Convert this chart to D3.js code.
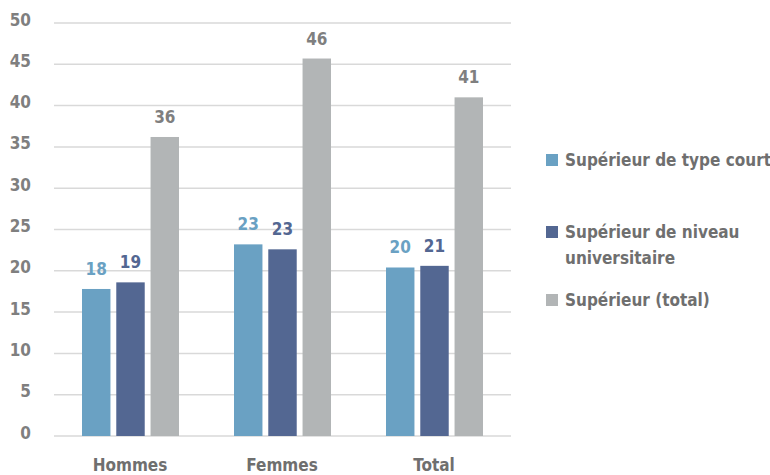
<!DOCTYPE html>
<html>
<head>
<meta charset="utf-8">
<script src="https://cdn.jsdelivr.net/npm/d3@7"></script>
<style>
  body { margin: 0; background: #fff; }
  text { font-family: "Liberation Sans Narrow", "DejaVu Sans Condensed", sans-serif; font-weight: bold; }
</style>
</head>
<body>
<script>

// data
var categories = ["Hommes", "Femmes", "Total"];
var seriesNames = ["Supérieur de type court", "Supérieur de niveau universitaire", "Supérieur (total)"];
var courtValues = [17.8, 23.2, 20.4];
var univValues = [18.6, 22.6, 20.6];
var totalValues = [36.2, 45.7, 41.0];
var yTicks = [0, 5, 10, 15, 20, 25, 30, 35, 40, 45, 50];

var colors = ["#6aa1c3", "#536792", "#b2b5b6"];
var labelColors = ["#6aa1c3", "#536792", "#7f7f7f"];

var svgWidth = 770, svgHeight = 475;
var margin = {top: 23, left: 54, right: 260, bottom: 39};
var chartWidth = svgWidth - margin.left - margin.right;
var chartHeight = svgHeight - margin.top - margin.bottom;

var svg = d3.select("body").append("svg")
    .attr("width", svgWidth)
    .attr("height", svgHeight);

var chartGroup = svg.append("g")
    .attr("transform", `translate(${margin.left}, ${margin.top})`);

var yScale = d3.scaleLinear().domain([0, 50]).range([chartHeight, 0]);
var xScale = d3.scaleBand().domain(categories).range([0, chartWidth]).paddingInner(0).paddingOuter(0);
var xSub = d3.scaleBand().domain([0, 1, 2]).range([28, xScale.bandwidth() - 27]).paddingInner(0.17);

// gridlines
chartGroup.selectAll(".grid")
    .data(yTicks)
    .enter()
    .append("line")
    .attr("x1", 0)
    .attr("x2", chartWidth + 1)
    .attr("y1", d => yScale(d))
    .attr("y2", d => yScale(d))
    .attr("stroke", "#d9d9d9")
    .attr("stroke-width", 1.5);

// y axis labels
var leftAxis = d3.axisLeft(yScale).tickValues(yTicks).tickSize(0).tickPadding(23);
var yAxis = chartGroup.append("g").call(leftAxis);
yAxis.select(".domain").remove();
yAxis.selectAll("text")
    .attr("fill", "#7f7f7f")
    .attr("dy", "0.12em")
    .style("font-size", "17px");

// x axis labels
var bottomAxis = d3.axisBottom(xScale).tickSize(0).tickPadding(23);
var xAxis = chartGroup.append("g")
    .attr("transform", `translate(0, ${chartHeight})`)
    .call(bottomAxis);
xAxis.select(".domain").remove();
xAxis.selectAll("text")
    .attr("fill", "#6f6f6f")
    .style("font-size", "17px");

var allSeries = [courtValues, univValues, totalValues];
var rows = [];
categories.forEach((c, i) => {
    allSeries.forEach((vals, s) => {
        rows.push({cat: c, s: s, value: vals[i]});
    });
});

chartGroup.selectAll("rect.bar")
    .data(rows)
    .enter()
    .append("rect")
    .attr("class", "bar")
    .attr("x", d => xScale(d.cat) + xSub(d.s))
    .attr("width", xSub.bandwidth())
    .attr("y", d => yScale(d.value))
    .attr("height", d => chartHeight - yScale(d.value))
    .attr("fill", d => colors[d.s]);

chartGroup.selectAll("text.val")
    .data(rows)
    .enter()
    .append("text")
    .attr("class", "val")
    .attr("x", d => xScale(d.cat) + xSub(d.s) + xSub.bandwidth() / 2)
    .attr("y", d => yScale(d.value) - 14)
    .attr("text-anchor", "middle")
    .attr("fill", d => labelColors[d.s])
    .style("font-size", "17px")
    .text(d => Math.round(d.value));

// legend
var legendItems = [
    {lines: ["Supérieur de type court"], y: 160},
    {lines: ["Supérieur de niveau", "universitaire"], y: 232},
    {lines: ["Supérieur (total)"], y: 300}
];
var legend = svg.append("g");
legendItems.forEach((item, i) => {
    legend.append("rect")
        .attr("x", 546)
        .attr("y", item.y - 6)
        .attr("width", 12)
        .attr("height", 12)
        .attr("fill", colors[i]);
    var t = legend.append("text")
        .attr("x", 565)
        .attr("y", item.y + 6)
        .attr("fill", "#6f6f6f")
        .style("font-size", "17px");
    item.lines.forEach((l, j) => {
        t.append("tspan")
            .attr("x", 565)
            .attr("dy", j === 0 ? 0 : 26)
            .text(l);
    });
});
</script>
</body>
</html>
